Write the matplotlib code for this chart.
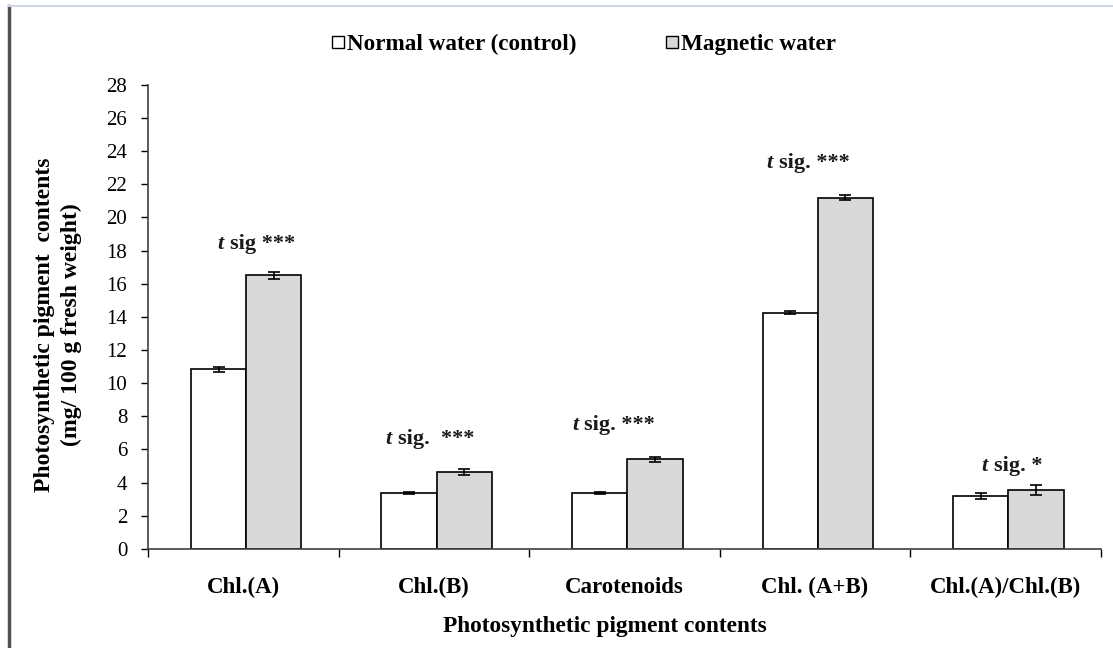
import matplotlib.pyplot as plt
import matplotlib.lines as mlines
import numpy as np

categories = ["Chl.(A)", "Chl.(B)", "Carotenoids", "Chl. (A+B)", "Chl.(A)/Chl.(B)"]
normal = [10.85, 3.38, 3.38, 14.25, 3.2]
normal_err = [0.15, 0.05, 0.05, 0.08, 0.18]
magnetic = [16.5, 4.65, 5.42, 21.2, 3.55]
magnetic_err = [0.22, 0.17, 0.15, 0.17, 0.32]
sig_labels = [("sig ***", 18.4), ("sig.  ***", 6.6), ("sig. ***", 7.5), ("sig. ***", 23.3), ("sig. *", 5.0)]
yticks = list(range(0, 29, 2))

plt.rcParams['font.family'] = ['Liberation Serif', 'DejaVu Serif']

fig = plt.figure(figsize=(11.13, 6.48), dpi=100)
ax = fig.add_axes([0.133, 0.153, 0.856, 0.716])

x = np.arange(len(categories)) + 0.015
w = 0.29
ekw = dict(ecolor='black', capsize=4, elinewidth=1.2, capthick=1.2)
ax.bar(x - w / 2, normal, w, yerr=normal_err, color='white', edgecolor='black',
       linewidth=1.2, error_kw=ekw, zorder=2)
ax.bar(x + w / 2, magnetic, w, yerr=magnetic_err, color='#d9d9d9', edgecolor='black',
       linewidth=1.2, error_kw=ekw, zorder=2)

# significance notes above each group
offsets = [-0.07, -0.19, -0.21, -0.19, -0.06]
for i, (txt, yv) in enumerate(sig_labels):
    ax.text(i + offsets[i], yv, "t ", fontsize=16, fontweight='bold', style='italic',
            ha='right', va='center', color='#1a1a1a')
    ax.text(i + offsets[i], yv, txt, fontsize=16, fontweight='bold',
            ha='left', va='center', color='#1a1a1a')

ax.set_xlim(-0.5, len(categories) - 0.5)
ax.set_ylim(0, 28)
ax.set_yticks(yticks)
ax.tick_params(axis='y', labelsize=15, direction='out', length=5, width=1, pad=10)
ax.set_xticks(np.arange(len(categories)))
ax.set_xticklabels(categories, fontsize=16.5, fontweight='bold')
ax.tick_params(axis='x', which='major', length=0, pad=20)
ax.set_xticks(np.arange(-0.5, len(categories), 1.0), minor=True)
ax.tick_params(axis='x', which='minor', direction='out', length=6, width=1)

for s in ['top', 'right']:
    ax.spines[s].set_visible(False)
ax.spines['left'].set_color('#404040')
ax.spines['bottom'].set_color('#404040')
ax.spines['left'].set_linewidth(1.2)
ax.spines['bottom'].set_linewidth(1.2)

ax.set_ylabel("Photosynthetic pigment  contents\n(mg/ 100 g fresh weight)",
              fontsize=17, fontweight='bold', labelpad=20, linespacing=1.4)
ax.yaxis.set_label_coords(-0.069, 0.483)
ax.set_xlabel("Photosynthetic pigment contents", fontsize=16.8, fontweight='bold', labelpad=14)
ax.xaxis.set_label_coords(0.479, -0.145)

h1 = mlines.Line2D([], [], marker='s', markersize=9, markerfacecolor='white',
                   markeredgecolor='black', linestyle='none', markeredgewidth=1)
h2 = mlines.Line2D([], [], marker='s', markersize=9, markerfacecolor='#d9d9d9',
                   markeredgecolor='black', linestyle='none', markeredgewidth=1)
fig.legend([h1, h2], ["Normal water (control)", "Magnetic water"], loc='center',
           bbox_to_anchor=(0.517, 0.932), ncol=2, frameon=False, handletextpad=-0.62,
           columnspacing=3.1, prop={'weight': 'bold', 'size': 16.7})

# frame lines of the original picture
fig.add_artist(mlines.Line2D([0.008, 0.008], [0, 0.99], color='#505050', lw=2.5,
                             transform=fig.transFigure))
fig.add_artist(mlines.Line2D([0.008, 1.0], [0.99, 0.99], color='#d0d4e4', lw=1.5,
                             transform=fig.transFigure))

fig.savefig("out.png", dpi=100)
